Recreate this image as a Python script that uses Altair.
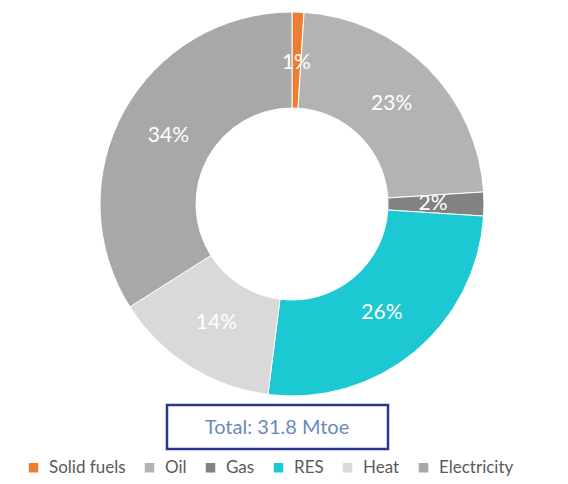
import altair as alt
import pandas as pd

categories = ["Solid fuels", "Oil", "Gas", "RES", "Heat", "Electricity"]
shares = [1, 23, 2, 26, 14, 34]
colors = ["#ED7D31", "#B3B3B3", "#828282", "#1CC8D2", "#D9D9D9", "#A8A8A8"]
total_label = ["Total: 31.8 Mtoe"]

df = pd.DataFrame({"source": categories, "share": shares, "idx": list(range(len(categories)))})
df["label"] = df["share"].astype(str) + "%"
tot = pd.DataFrame({"label": total_label})

CX, CY = 284, 196

base = alt.Chart(df).encode(
    theta=alt.Theta("share:Q", stack=True),
    order=alt.Order("idx:Q"),
)

arc = base.mark_arc(outerRadius=192, innerRadius=96, stroke="white", strokeWidth=1).encode(
    color=alt.Color(
        "source:N",
        sort=categories,
        scale=alt.Scale(domain=categories, range=colors),
        legend=alt.Legend(
            title=None, orient="none", legendX=17, legendY=451,
            direction="horizontal", columns=6, symbolType="square",
            symbolSize=90, symbolStrokeWidth=0, labelFont="Lato",
            labelFontSize=17, labelColor="#5A5A5A", columnPadding=15,
            labelOffset=7, padding=0,
        ),
    ),
    x=alt.value(CX), y=alt.value(CY),
)

labels = base.mark_text(radius=141, font="Lato", fontSize=21, color="white").encode(
    text="label:N", x=alt.value(CX), y=alt.value(CY),
)

box = alt.Chart(tot).mark_rect(fill="white", stroke="#2B3592", strokeWidth=2.5).encode(
    x=alt.value(159), x2=alt.value(380), y=alt.value(397), y2=alt.value(441),
)
box_text = alt.Chart(tot).mark_text(font="Lato", fontSize=20, color="#6A89BE").encode(
    text="label:N", x=alt.value(269), y=alt.value(420),
)

chart = alt.layer(arc, labels, box, box_text).properties(
    width=552, height=468, padding=0, autosize=alt.AutoSizeParams(type="none"),
).configure_view(stroke=None)

chart.save("out.html", embed_options={"renderer": "svg", "actions": False})
